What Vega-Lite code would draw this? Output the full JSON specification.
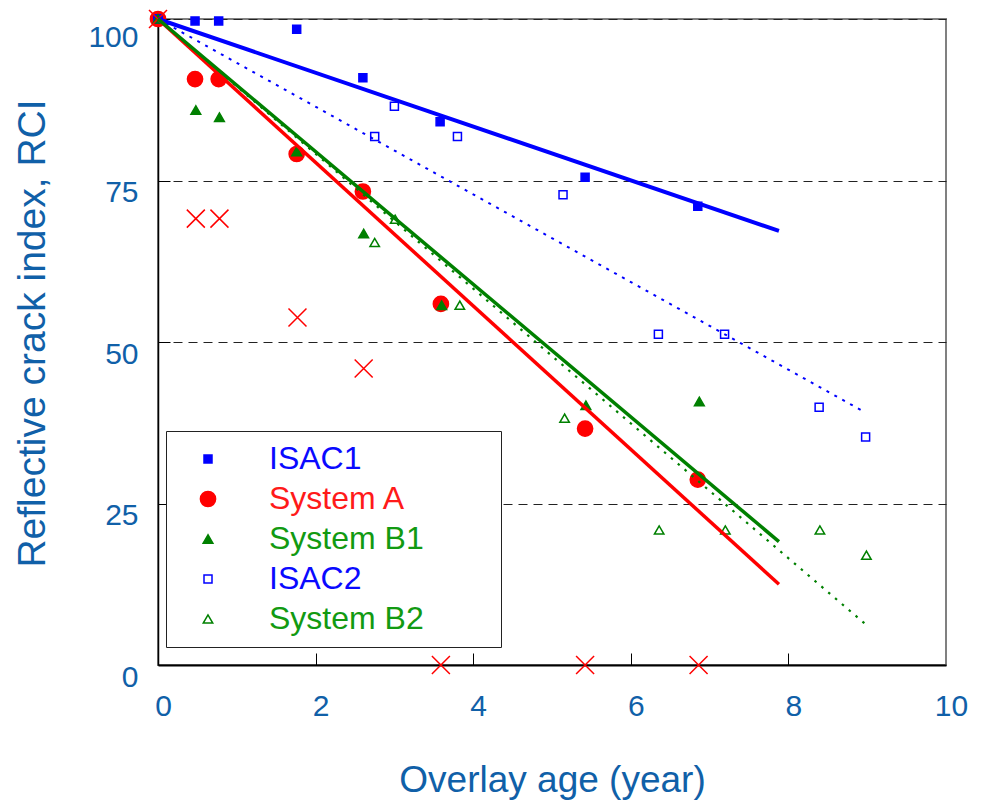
{
  "$schema": "https://vega.github.io/schema/vega-lite/v6.json",
  "width": 788,
  "height": 646,
  "autosize": {"type": "none"},
  "padding": {"left": 158, "top": 19, "right": 36, "bottom": 137},
  "background": "white",
  "config": {
    "font": "Liberation Sans",
    "view": {"stroke": "#808080", "strokeWidth": 2},
    "legend": {
      "orient": "none",
      "legendX": 8,
      "legendY": 412
    }
  },
  "datasets": {
    "points": [
      {"series": "System A", "yr": 0, "rci": 100},
      {"series": "System A", "yr": 0.47, "rci": 90.7},
      {"series": "System A", "yr": 0.77, "rci": 90.7},
      {"series": "System A", "yr": 1.76, "rci": 79.1},
      {"series": "System A", "yr": 2.6, "rci": 73.3},
      {"series": "System A", "yr": 3.59, "rci": 55.9},
      {"series": "System A", "yr": 5.42, "rci": 36.6},
      {"series": "System A", "yr": 6.85, "rci": 28.7},
      {"series": "ISAC1", "yr": 0, "rci": 100},
      {"series": "ISAC1", "yr": 0.47, "rci": 99.7},
      {"series": "ISAC1", "yr": 0.77, "rci": 99.7},
      {"series": "ISAC1", "yr": 1.76, "rci": 98.4},
      {"series": "ISAC1", "yr": 2.6, "rci": 90.9},
      {"series": "ISAC1", "yr": 3.58, "rci": 84.1},
      {"series": "ISAC1", "yr": 5.42, "rci": 75.5},
      {"series": "ISAC1", "yr": 6.85, "rci": 71.0},
      {"series": "System B1", "yr": 0, "rci": 100},
      {"series": "System B1", "yr": 0.48, "rci": 85.9},
      {"series": "System B1", "yr": 0.78, "rci": 84.8},
      {"series": "System B1", "yr": 1.76, "rci": 79.5},
      {"series": "System B1", "yr": 2.61, "rci": 66.8},
      {"series": "System B1", "yr": 3.6, "rci": 55.7},
      {"series": "System B1", "yr": 5.43, "rci": 40.2},
      {"series": "System B1", "yr": 6.87, "rci": 40.8},
      {"series": "ISAC2", "yr": 0, "rci": 100},
      {"series": "ISAC2", "yr": 2.75, "rci": 81.8},
      {"series": "ISAC2", "yr": 3.0, "rci": 86.5},
      {"series": "ISAC2", "yr": 3.8, "rci": 81.8},
      {"series": "ISAC2", "yr": 5.14, "rci": 72.8},
      {"series": "ISAC2", "yr": 6.35, "rci": 51.2},
      {"series": "ISAC2", "yr": 7.19, "rci": 51.2},
      {"series": "ISAC2", "yr": 8.39, "rci": 39.9},
      {"series": "ISAC2", "yr": 8.98, "rci": 35.3},
      {"series": "System B2", "yr": 0, "rci": 100},
      {"series": "System B2", "yr": 2.75, "rci": 65.4},
      {"series": "System B2", "yr": 3.01, "rci": 69.0},
      {"series": "System B2", "yr": 3.83, "rci": 55.7},
      {"series": "System B2", "yr": 5.16, "rci": 38.2},
      {"series": "System B2", "yr": 6.36, "rci": 20.9},
      {"series": "System B2", "yr": 7.2, "rci": 20.9},
      {"series": "System B2", "yr": 8.4, "rci": 20.9},
      {"series": "System B2", "yr": 8.99, "rci": 17.0}
    ],
    "crosses": [
      {"yr": 0, "rci": 100},
      {"yr": 0.48, "rci": 69.1},
      {"yr": 0.78, "rci": 69.1},
      {"yr": 1.77, "rci": 53.8},
      {"yr": 2.61, "rci": 45.9},
      {"yr": 3.59, "rci": 0},
      {"yr": 5.42, "rci": 0},
      {"yr": 6.86, "rci": 0}
    ],
    "fits": [
      {"series": "ISAC1", "yr": 0, "rci": 100},
      {"series": "ISAC1", "yr": 7.88, "rci": 67.2},
      {"series": "System A", "yr": 0, "rci": 100},
      {"series": "System A", "yr": 7.88, "rci": 12.5},
      {"series": "System B1", "yr": 0, "rci": 100},
      {"series": "System B1", "yr": 7.88, "rci": 19.1},
      {"series": "ISAC2", "yr": 0, "rci": 100},
      {"series": "ISAC2", "yr": 8.96, "rci": 39.2},
      {"series": "System B2", "yr": 0, "rci": 100},
      {"series": "System B2", "yr": 8.99, "rci": 6.2}
    ]
  },
  "encoding": {
    "x": {
      "field": "yr",
      "type": "quantitative",
      "scale": {"domain": [0, 10], "nice": false, "zero": false},
      "axis": {
        "title": "Overlay age (year)",
        "titleFontSize": 37,
        "titleFontWeight": "normal",
        "titleColor": "#1060a8",
        "titlePadding": 41,
        "values": [0, 2, 4, 6, 8, 10],
        "grid": false,
        "domainColor": "#000000",
        "domainWidth": 2,
        "tickColor": "#000000",
        "tickWidth": 1,
        "tickSize": -12,
        "tickOpacity": {"condition": {"test": "datum.value == 0 || datum.value == 10", "value": 0}, "value": 1},
        "labelFontSize": 30,
        "labelColor": "#1060a8",
        "labelPadding": 38,
        "labelOffset": 5,
        "labelFlush": false,
        "labelOverlap": false
      }
    },
    "y": {
      "field": "rci",
      "type": "quantitative",
      "scale": {"domain": [0, 100], "nice": false},
      "axis": {
        "title": "Reflective crack index, RCI",
        "titleFontSize": 39,
        "titleFontWeight": "normal",
        "titleColor": "#1060a8",
        "titlePadding": 35,
        "titleY": 314,
        "values": [0, 25, 50, 75, 100],
        "grid": true,
        "gridColor": "#222222",
        "gridDash": [9, 6],
        "gridWidth": 1.2,
        "gridOpacity": {"condition": {"test": "datum.value == 0", "value": 0}, "value": 1},
        "domainColor": "#000000",
        "domainWidth": 1.5,
        "tickColor": "#000000",
        "tickWidth": 1,
        "tickSize": -12,
        "labelFontSize": 30,
        "labelColor": "#1060a8",
        "labelPadding": 32,
        "labelOffset": {"condition": {"test": "datum.value == 100", "value": 18}, "value": 12},
        "labelFlush": false,
        "labelOverlap": false
      }
    }
  },
  "layer": [
    {
      "data": {"name": "points"},
      "mark": {"type": "point", "opacity": 1, "strokeWidth": 1.5},
      "encoding": {
        "fill": {
          "field": "series",
          "type": "nominal",
          "scale": {
            "domain": ["ISAC1", "System A", "System B1", "ISAC2", "System B2"],
            "range": ["#0000ff", "#ff0000", "#008000", "transparent", "transparent"]
          },
          "legend": {
            "title": " ",
            "titleOrient": "right",
            "titlePadding": 65,
            "titleFontSize": 8,
            "fillColor": "white",
            "strokeColor": "#222222",
            "padding": 12,
            "rowPadding": 8,
            "labelFontSize": 32,
            "labelFont": "Liberation Sans",
            "labelLimit": 400,
            "labelOffset": 45,
            "labelColor": {"expr": "datum.value === 'System A' ? '#ff1a1a' : (datum.value === 'System B1' || datum.value === 'System B2') ? '#129a12' : '#0a0aff'"},
            "symbolOffset": 14,
            "symbolStrokeWidth": 1.5,
            "orient": "none",
            "legendX": 8,
            "legendY": 412
          }
        },
        "stroke": {
          "field": "series",
          "type": "nominal",
          "scale": {
            "domain": ["ISAC1", "System A", "System B1", "ISAC2", "System B2"],
            "range": ["#0000ff", "#ff0000", "#008000", "#0000ff", "#008000"]
          }
        },
        "shape": {
          "field": "series",
          "type": "nominal",
          "scale": {
            "domain": ["ISAC1", "System A", "System B1", "ISAC2", "System B2"],
            "range": ["square", "circle", "triangle-up", "square", "triangle-up"]
          }
        },
        "size": {
          "field": "series",
          "type": "nominal",
          "scale": {
            "type": "ordinal",
            "domain": ["ISAC1", "System A", "System B1", "ISAC2", "System B2"],
            "range": [64, 231, 95, 64, 90]
          }
        }
      }
    },
    {
      "data": {"name": "crosses"},
      "mark": {
        "type": "point",
        "shape": "M-1,-1L1,1M-1,1L1,-1",
        "filled": false,
        "opacity": 1,
        "stroke": "#ff0000",
        "strokeWidth": 1.5,
        "size": 324
      }
    },
    {
      "data": {"name": "fits"},
      "transform": [{"filter": "datum.series === 'ISAC2'"}],
      "mark": {"type": "line", "color": "#0000ff", "strokeWidth": 2, "strokeDash": [3, 6]}
    },
    {
      "data": {"name": "fits"},
      "transform": [{"filter": "datum.series === 'System B2'"}],
      "mark": {"type": "line", "color": "#008000", "strokeWidth": 2.2, "strokeDash": [2.5, 6.5]}
    },
    {
      "data": {"name": "fits"},
      "transform": [{"filter": "datum.series === 'ISAC1'"}],
      "mark": {"type": "line", "color": "#0000ff", "strokeWidth": 4}
    },
    {
      "data": {"name": "fits"},
      "transform": [{"filter": "datum.series === 'System A'"}],
      "mark": {"type": "line", "color": "#ff0000", "strokeWidth": 3.5}
    },
    {
      "data": {"name": "fits"},
      "transform": [{"filter": "datum.series === 'System B1'"}],
      "mark": {"type": "line", "color": "#008000", "strokeWidth": 3.5}
    }
  ]
}
